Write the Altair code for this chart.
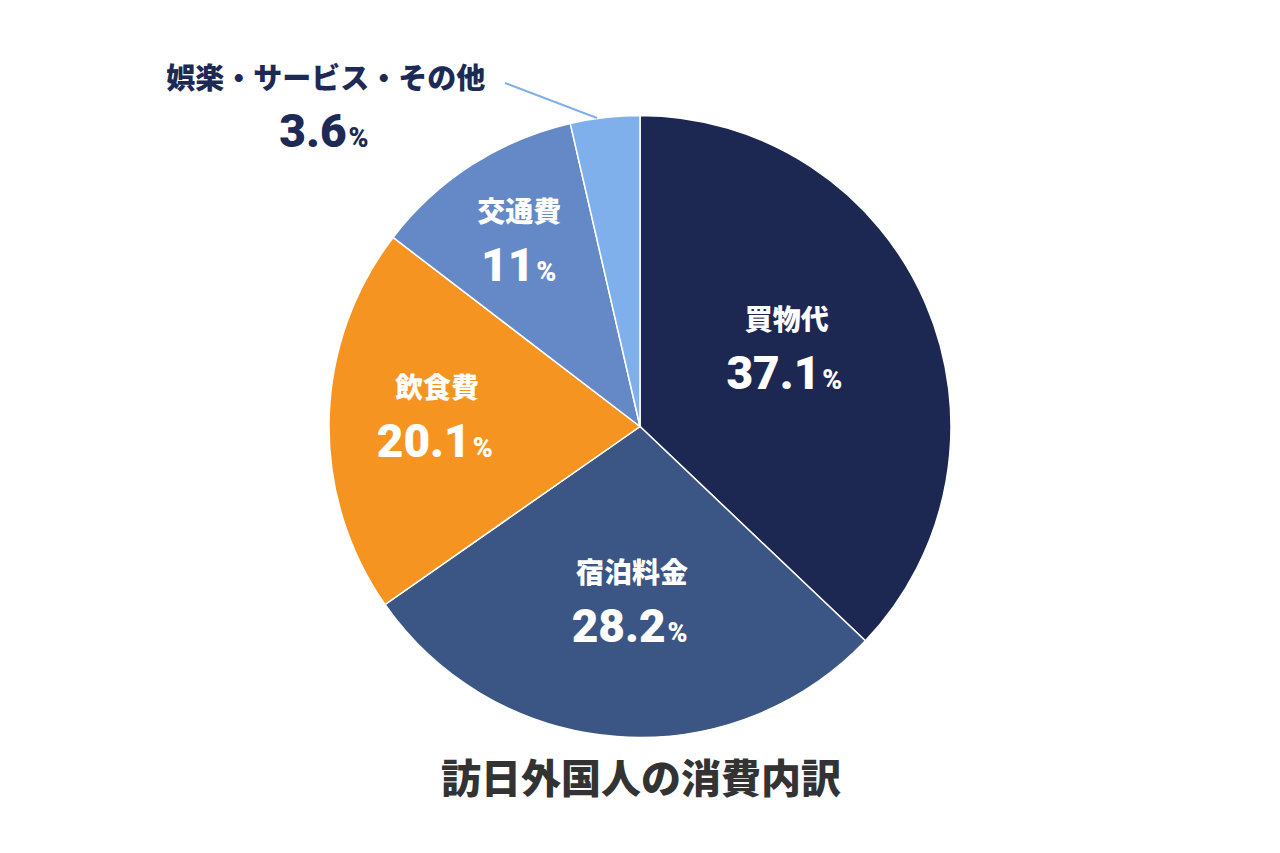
import math
import altair as alt
import pandas as pd

# ---- data ----
categories = ["買物代", "宿泊料金", "飲食費", "交通費", "娯楽・サービス・その他"]
shares = [37.1, 28.2, 20.1, 11.0, 3.6]
share_labels = ["37.1", "28.2", "20.1", "11", "3.6"]
title_text = "訪日外国人の消費内訳"

# ---- styles ----
colors = ["#1c2852", "#3b5684", "#f59420", "#6489c6", "#80b0ec"]
label_style = [
    dict(r=165, dx=-5, dy=-14, color="white"),
    dict(r=174, dx=5, dy=0, color="white"),
    dict(r=203, dx=0, dy=-7, color="white"),
    dict(r=223, dx=0, dy=0, color="white"),
    dict(r=330, dx=-277, dy=6, color="#1c2a55"),
]
W, H = 1280, 853
R = 311
JP = "Noto Sans CJK JP"
NUM = "Roboto"
NUM_SIZE, PCT_SIZE, NAME_SIZE = 46, 27, 28

df = pd.DataFrame({"cat": categories, "share": shares, "num": share_labels,
                   "idx": list(range(len(categories)))})

base = alt.Chart(df)

pie = base.mark_arc(outerRadius=R, stroke="white", strokeWidth=1.5).encode(
    theta=alt.Theta("share:Q", stack=True),
    color=alt.Color("cat:N", scale=alt.Scale(domain=categories, range=colors), legend=None, sort=None),
    order=alt.Order("idx:Q"),
)

mid_base = (
    base.transform_window(cum="sum(share)", sort=[alt.SortField("idx")], frame=[None, 0])
    .transform_joinaggregate(total="sum(share)")
    .transform_calculate(mid="(datum.cum - datum.share / 2) / datum.total")
)
theta_mid = alt.Theta("mid:Q", scale=alt.Scale(domain=[0, 1], range=[0, 2 * math.pi]))


def num_width(s):
    w = 0
    for ch in s:
        w += 0.25 * NUM_SIZE if ch == "." else 0.56 * NUM_SIZE
    return w


layers = [pie]
for i, st in enumerate(label_style):
    sub = mid_base.transform_filter(alt.datum.idx == i)
    nw = num_width(share_labels[i])
    pw = 0.72 * PCT_SIZE
    gap = 2
    off = (nw + gap + pw) / 2 - pw - gap
    name_size = NAME_SIZE + (1 if i == 4 else 0)
    name = sub.mark_text(radius=st["r"], dx=st["dx"], dy=st["dy"] - 25, align="center",
                         baseline="middle", font=JP, fontSize=name_size, fontWeight=900,
                         color=st["color"]).encode(theta=theta_mid, text="cat:N")
    num = sub.mark_text(radius=st["r"], dx=st["dx"] + off, dy=st["dy"] + 42, align="right",
                        baseline="alphabetic", font=NUM, fontSize=NUM_SIZE, fontWeight=900,
                        color=st["color"]).encode(theta=theta_mid, text="num:N")
    pct = sub.mark_text(radius=st["r"], dx=st["dx"] + off + gap, dy=st["dy"] + 42, align="left",
                        baseline="alphabetic", font=NUM, fontSize=PCT_SIZE, fontWeight=900,
                        color=st["color"]).encode(theta=theta_mid, text=alt.value("%"))
    layers += [name, num, pct]

leader_df = pd.DataFrame({"k": [0]})
leader = alt.Chart(leader_df).mark_rule(color=colors[4], strokeWidth=2).encode(
    x=alt.value(505), y=alt.value(83), x2=alt.value(597), y2=alt.value(118)
)
title = alt.Chart(leader_df).mark_text(font=JP, fontSize=40, fontWeight=900, color="#333333",
                                        align="center", baseline="middle").encode(
    x=alt.value(W / 2 + 1), y=alt.value(781), text=alt.value(title_text)
)
layers += [leader, title]

chart = alt.layer(*layers).resolve_scale(theta="independent").properties(
    width=W, height=H, autosize=alt.AutoSizeParams(type="none"), padding=0,
    background="white"
).configure_view(stroke=None)

chart.save("out.html", embed_options={"renderer": "svg", "actions": False})
